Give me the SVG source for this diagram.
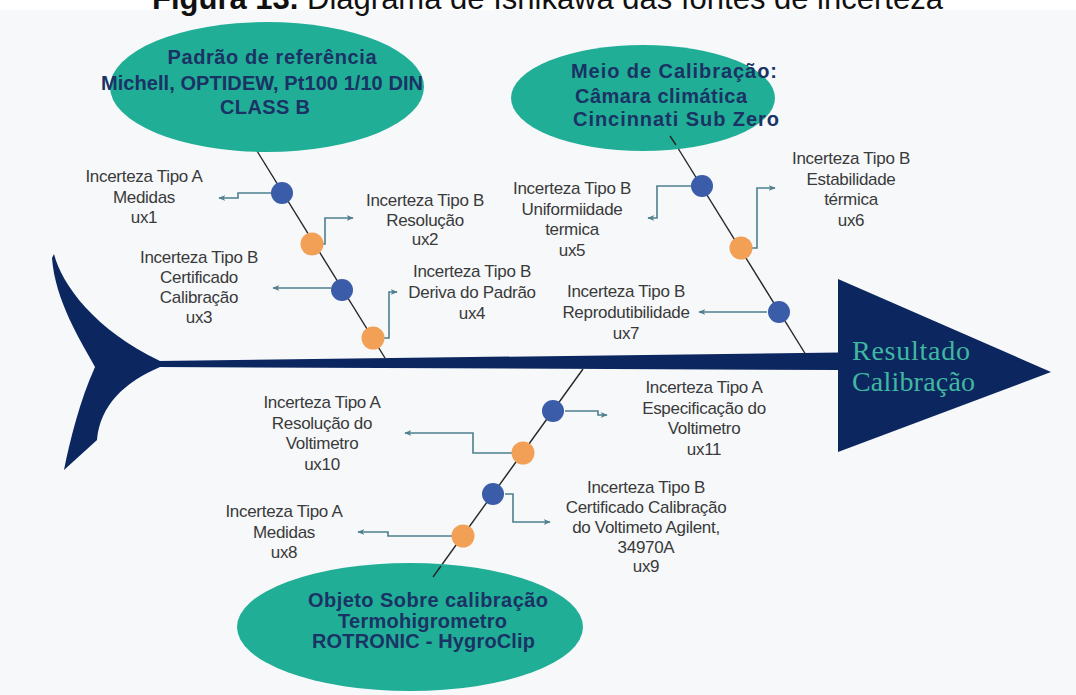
<svg xmlns="http://www.w3.org/2000/svg" width="1076" height="695" viewBox="0 0 1076 695">
<defs>
<style>
.lbl{font-family:"Liberation Sans",Arial,sans-serif;font-size:17px;fill:#3a3a3a;letter-spacing:-0.3px;text-anchor:middle}
.head{font-family:"Liberation Sans",Arial,sans-serif;font-weight:bold;font-size:20px;fill:#1a3364}
.bone{stroke:#262626;stroke-width:1.4;fill:none}
.conn{stroke:#4e7f8d;stroke-width:1.6;fill:none;marker-end:url(#ah)}
.blue{fill:#3b5ca8}
.orange{fill:#f2a055}
.ell{fill:#21ae97}
.navy{fill:#0c2660}
.res{font-family:"Liberation Serif","Times New Roman",serif;font-size:28px;fill:#40b8a0}
</style>
<marker id="ah" viewBox="0 0 10 10" refX="9" refY="5" markerWidth="4.5" markerHeight="4.5" orient="auto">
<path d="M0,1 L10,5 L0,9 L3,5 Z" fill="#4e7f8d"/>
</marker>
</defs>
<rect x="0" y="0" width="1076" height="695" fill="#ffffff"/>
<rect x="0" y="10" width="1076" height="685" fill="#f6f8fa"/>
<text x="152" y="9" font-family="Liberation Sans,Arial,sans-serif" font-size="31" fill="#111"><tspan font-weight="bold">Figura 13.</tspan> Diagrama de Ishikawa das fontes de incerteza</text>

<g id="spine">
<path class="navy" d="M54 254 C62 285 95 330 160 361 L160 367 C125 382 100 405 97 440 L64 470 C70 440 80 400 95 367 C80 340 55 300 52 258 Z"/>
<polygon class="navy" points="158,361 840,352.5 840,370 158,367"/>
<polygon class="navy" points="838,279 1051,372 838,452"/>
<text class="res" x="852" y="360" textLength="118" lengthAdjust="spacing">Resultado</text>
<text class="res" x="852" y="391" textLength="123" lengthAdjust="spacing">Calibração</text>
</g>

<g id="connectors">
<line class="bone" x1="257" y1="151" x2="385" y2="358"/>
<line class="bone" x1="676" y1="145" x2="806" y2="355"/>
<line class="bone" x1="583" y1="369" x2="433" y2="577"/>
<path class="conn" d="M271 193 H238 V198 H219"/>
<path class="conn" d="M323 244 H325 V218 H353"/>
<path class="conn" d="M331 288 H273"/>
<path class="conn" d="M383 338 H389 V292 H397"/>
<path class="conn" d="M691 186 H657 V218 H648"/>
<path class="conn" d="M751 248 H757 V188 H775"/>
<path class="conn" d="M767 312 H699"/>
<path class="conn" d="M565 411 H598 V415 H607"/>
<path class="conn" d="M512 453 H473 V433 H405"/>
<path class="conn" d="M505 494 H513 V522 H550"/>
<path class="conn" d="M452 536 H388 V532 H358"/>
</g>

<g id="padrao">
<ellipse class="ell" cx="267" cy="87" rx="157" ry="65"/>
<text class="head" x="272" y="64" text-anchor="middle" textLength="209" lengthAdjust="spacing">Padrão de referência</text>
<text class="head" x="262" y="89.5" text-anchor="middle" textLength="322" lengthAdjust="spacing">Michell, OPTIDEW, Pt100 1/10 DIN</text>
<text class="head" x="265" y="114" text-anchor="middle" textLength="90" lengthAdjust="spacing">CLASS B</text>
</g>

<g id="meio">
<ellipse class="ell" cx="643" cy="98" rx="132" ry="53"/>
<line class="bone" x1="670" y1="136" x2="676" y2="145"/>
<text class="head" x="571" y="78" textLength="206" lengthAdjust="spacing">Meio de Calibração:</text>
<text class="head" x="575" y="102.5" textLength="172" lengthAdjust="spacing">Câmara climática</text>
<text class="head" x="573" y="126" textLength="206" lengthAdjust="spacing">Cincinnati Sub Zero</text>
</g>

<g id="objeto">
<ellipse class="ell" cx="410" cy="627" rx="173" ry="64"/>
<line class="bone" x1="441" y1="566" x2="433" y2="577"/>
<text class="head" x="428" y="607" text-anchor="middle" textLength="240" lengthAdjust="spacing">Objeto Sobre calibração</text>
<text class="head" x="422.5" y="627.5" text-anchor="middle" textLength="169" lengthAdjust="spacing">Termohigrometro</text>
<text class="head" x="423.5" y="648" text-anchor="middle" textLength="223" lengthAdjust="spacing">ROTRONIC - HygroClip</text>
</g>

<g id="ux1">
<circle class="blue" cx="282" cy="193" r="11"/>
<text class="lbl" x="144" y="182">Incerteza Tipo A</text>
<text class="lbl" x="144" y="202.5">Medidas</text>
<text class="lbl" x="144" y="223">ux1</text>
</g>
<g id="ux2">
<circle class="orange" cx="312" cy="244" r="11.5"/>
<text class="lbl" x="425" y="206">Incerteza Tipo B</text>
<text class="lbl" x="425" y="225.5">Resolução</text>
<text class="lbl" x="425" y="245">ux2</text>
</g>
<g id="ux3">
<circle class="blue" cx="342" cy="290" r="11"/>
<text class="lbl" x="199" y="263">Incerteza Tipo B</text>
<text class="lbl" x="199" y="283">Certificado</text>
<text class="lbl" x="199" y="303">Calibração</text>
<text class="lbl" x="199" y="323">ux3</text>
</g>
<g id="ux4">
<circle class="orange" cx="373" cy="338" r="11.5"/>
<text class="lbl" x="472" y="277">Incerteza Tipo B</text>
<text class="lbl" x="472" y="298">Deriva do Padrão</text>
<text class="lbl" x="472" y="319">ux4</text>
</g>
<g id="ux5">
<circle class="blue" cx="702" cy="186" r="11"/>
<text class="lbl" x="572" y="194">Incerteza Tipo B</text>
<text class="lbl" x="572" y="214.5">Uniformiidade</text>
<text class="lbl" x="572" y="235">termica</text>
<text class="lbl" x="572" y="255.5">ux5</text>
</g>
<g id="ux6">
<circle class="orange" cx="741" cy="248" r="11.5"/>
<text class="lbl" x="851" y="164">Incerteza Tipo B</text>
<text class="lbl" x="851" y="184.5">Estabilidade</text>
<text class="lbl" x="851" y="205">térmica</text>
<text class="lbl" x="851" y="225.5">ux6</text>
</g>
<g id="ux7">
<circle class="blue" cx="779" cy="312" r="11"/>
<text class="lbl" x="626" y="297">Incerteza Tipo B</text>
<text class="lbl" x="626" y="318">Reprodutibilidade</text>
<text class="lbl" x="626" y="339">ux7</text>
</g>
<g id="ux11">
<circle class="blue" cx="553" cy="411" r="11"/>
<text class="lbl" x="704" y="393">Incerteza Tipo A</text>
<text class="lbl" x="704" y="413.5">Especificação do</text>
<text class="lbl" x="704" y="434">Voltimetro</text>
<text class="lbl" x="704" y="454.5">ux11</text>
</g>
<g id="ux10">
<circle class="orange" cx="523" cy="453" r="11.5"/>
<text class="lbl" x="322" y="408">Incerteza Tipo A</text>
<text class="lbl" x="322" y="428.5">Resolução do</text>
<text class="lbl" x="322" y="449">Voltimetro</text>
<text class="lbl" x="322" y="469.5">ux10</text>
</g>
<g id="ux9">
<circle class="blue" cx="493" cy="494" r="11"/>
<text class="lbl" x="646" y="493">Incerteza Tipo B</text>
<text class="lbl" x="646" y="513">Certificado Calibração</text>
<text class="lbl" x="646" y="533">do Voltimeto Agilent,</text>
<text class="lbl" x="646" y="552.5">34970A</text>
<text class="lbl" x="646" y="572">ux9</text>
</g>
<g id="ux8">
<circle class="orange" cx="463" cy="536" r="11.5"/>
<text class="lbl" x="284" y="517">Incerteza Tipo A</text>
<text class="lbl" x="284" y="537.5">Medidas</text>
<text class="lbl" x="284" y="558">ux8</text>
</g>
</svg>
